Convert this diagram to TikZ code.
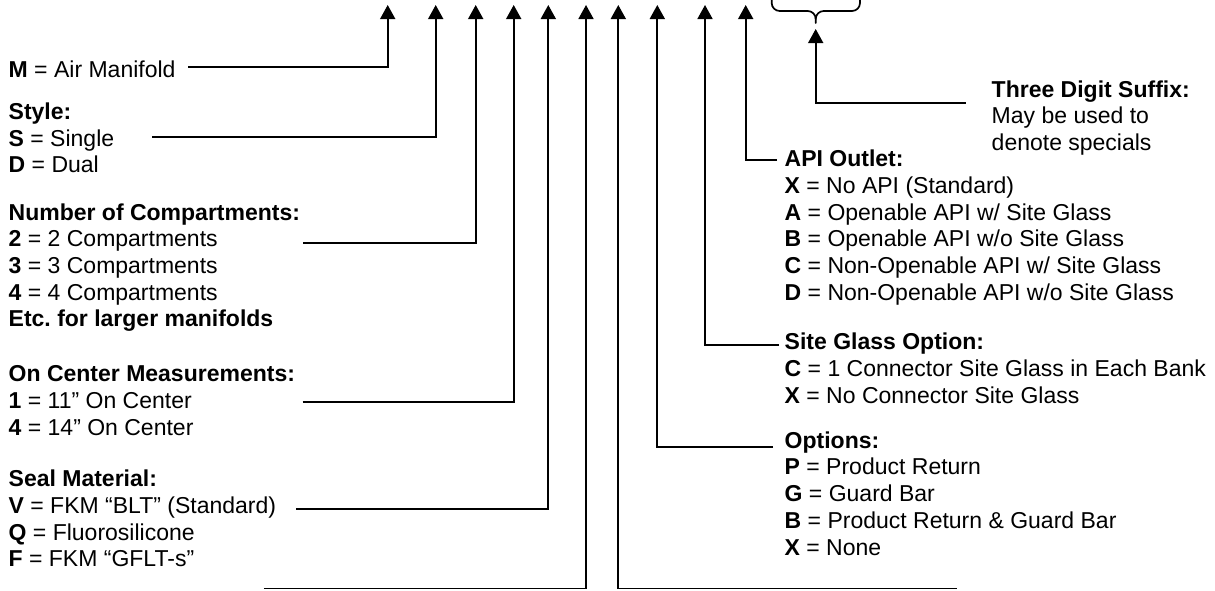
\documentclass[tikz,border=0pt]{standalone}
\usepackage{fontspec}
\setmainfont{Liberation Sans}
\usetikzlibrary{arrows.meta}
\frenchspacing
\tikzset{
  txt/.style={inner sep=0pt, anchor=base west, align=left, font=\fontsize{23}{26.7}\selectfont},
  conn/.style={line width=1.7pt, -{Triangle[width=15pt,length=14pt]}},
  bracestyle/.style={line width=1.7pt, line cap=round}
}
\begin{document}
\begin{tikzpicture}[x=1pt,y=-1pt]
\useasboundingbox (0,0) rectangle (1215,590);
% arrow tips
\coordinate (tM) at (387.7,5);
\coordinate (tS) at (435.7,5);
\coordinate (tN) at (475.7,5);
\coordinate (tC) at (513.7,5);
\coordinate (tV) at (548.3,5);
\coordinate (tA) at (586,5);
\coordinate (tB) at (618.3,5);
\coordinate (tO) at (657.3,5);
\coordinate (tG) at (705,5);
\coordinate (tP) at (745.7,5);
\coordinate (tX) at (815.7,29);
% line starts
\coordinate (sM) at (188.3,66.7);
\coordinate (sS) at (152,136.7);
\coordinate (sN) at (303,242.7);
\coordinate (sC) at (302.7,401.7);
\coordinate (sV) at (296,509);
\coordinate (sA) at (263.8,588.5);
\coordinate (sB) at (956.6,588.5);
\coordinate (sO) at (773,446.7);
\coordinate (sG) at (779,345);
\coordinate (sP) at (777,160);
\coordinate (sX) at (965.7,103.3);
% texts (anchored at the baseline of their last line)
\node[txt] (mtxt) at (8.5,77.3) {\textbf{M} = Air Manifold};
\node[txt] (style) at (8.5,172.7) {\textbf{Style:}\\ \textbf{S} = Single\\ \textbf{D} = Dual};
\node[txt] (ncomp) at (8.5,326.8) {\textbf{Number of Compartments:}\\ \textbf{2} = 2 Compartments\\ \textbf{3} = 3 Compartments\\ \textbf{4} = 4 Compartments\\ \textbf{Etc.\ for larger manifolds}};
\node[txt] (oncen) at (8.5,435.1) {\textbf{On Center Measurements:}\\ \textbf{1} = 11” On Center\\ \textbf{4} = 14” On Center};
\node[txt] (seal) at (8.5,566.9) {\textbf{Seal Material:}\\ \textbf{V} = FKM “BLT” (Standard)\\ \textbf{Q} = Fluorosilicone\\ \textbf{F} = FKM “GFLT-s”};
\node[txt] (suffix) at (991.5,150.5) {\textbf{Three Digit Suffix:}\\ May be used to\\ denote specials};
\node[txt] (api) at (784.5,300.1) {\textbf{API Outlet:}\\ \textbf{X} = No API (Standard)\\ \textbf{A} = Openable API w/ Site Glass\\ \textbf{B} = Openable API w/o Site Glass\\ \textbf{C} = Non-Openable API w/ Site Glass\\ \textbf{D} = Non-Openable API w/o Site Glass};
\node[txt] (site) at (784.5,403) {\textbf{Site Glass Option:}\\ \textbf{C} = 1 Connector Site Glass in Each Bank\\ \textbf{X} = No Connector Site Glass};
\node[txt] (opts) at (784.5,555) {\textbf{Options:}\\ \textbf{P} = Product Return\\ \textbf{G} = Guard Bar\\ \textbf{B} = Product Return \& Guard Bar\\ \textbf{X} = None};
% connectors
\draw[conn] (sM) -| (tM);
\draw[conn] (sS) -| (tS);
\draw[conn] (sN) -| (tN);
\draw[conn] (sC) -| (tC);
\draw[conn] (sV) -| (tV);
\draw[conn] (sA) -| (tA);
\draw[conn] (sB) -| (tB);
\draw[conn] (sO) -| (tO);
\draw[conn] (sG) -| (tG);
\draw[conn] (sP) -| (tP);
\draw[conn] (sX) -| (tX);
% brace
\draw[bracestyle] (771.7,-3) -- (771.7,3) to[out=-90,in=180] (779.7,11) -- (807.7,11) to[out=0,in=90] (815.7,19) -- (815.7,23);
\draw[bracestyle] (860,-3) -- (860,3) to[out=-90,in=0] (852,11) -- (823.7,11) to[out=180,in=90] (815.7,19);
\end{tikzpicture}
\end{document}
